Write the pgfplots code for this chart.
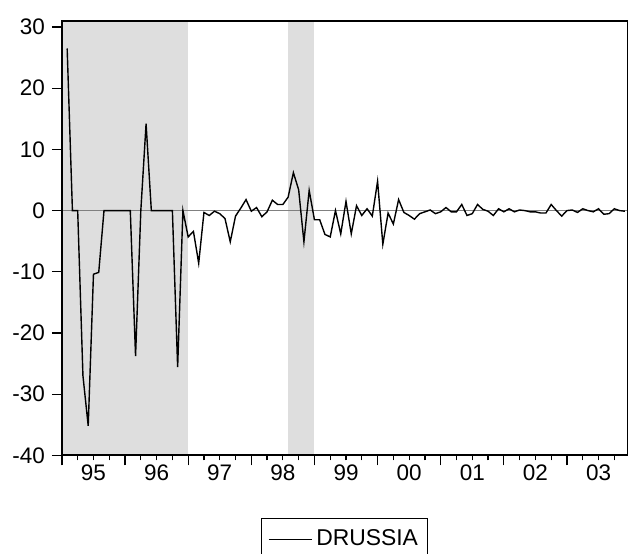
\documentclass[border=0pt]{standalone}
\usepackage{fontspec}
\setmainfont{Liberation Sans}
\usepackage{pgfplots}
\usepackage{pgfplotstable}
\pgfplotsset{compat=1.18}
\definecolor{shade}{HTML}{DEDEDE}
\definecolor{zeroline}{HTML}{808080}

% monthly change, m = months since 1995M01
\pgfplotstableread{
m v
1 26.5
2 0
3 0
4 -27.0
5 -35.2
6 -10.4
7 -10.1
8 0
9 0
10 0
11 0
12 0
13 0
14 -23.8
15 0
16 14.2
17 0
18 0
19 0
20 0
21 0
22 -25.6
23 0
24 -4.3
25 -3.4
26 -8.6
27 -0.3
28 -0.8
29 -0.1
30 -0.5
31 -1.3
32 -5.1
33 -0.9
34 0.4
35 1.8
36 -0.1
37 0.5
38 -1.0
39 -0.2
40 1.7
41 1.0
42 1.0
43 2.2
44 6.2
45 3.4
46 -5.1
47 3.3
48 -1.5
49 -1.5
50 -3.9
51 -4.3
52 0.0
53 -3.8
54 1.5
55 -3.8
56 0.8
57 -0.8
58 0.3
59 -0.9
60 4.8
61 -5.5
62 -0.4
63 -2.2
64 1.8
65 -0.3
66 -0.8
67 -1.4
68 -0.5
69 -0.2
70 0.1
71 -0.5
72 -0.2
73 0.5
74 -0.2
75 -0.2
76 1.0
77 -0.8
78 -0.5
79 1.0
80 0.2
81 -0.1
82 -0.8
83 0.3
84 -0.2
85 0.3
86 -0.2
87 0.1
88 0.0
89 -0.2
90 -0.2
91 -0.4
92 -0.4
93 1.0
94 0.0
95 -0.9
96 0.0
97 0.1
98 -0.3
99 0.3
100 0.0
101 -0.2
102 0.3
103 -0.6
104 -0.5
105 0.3
106 0.0
107 -0.1
}\drussia

\begin{document}
\begin{tikzpicture}
\path[use as bounding box] (-31bp,-49bp) rectangle (283.5bp,228bp);
\begin{axis}[
  at={(0,0)}, anchor=south west,
  scale only axis, width=283.5bp, height=217.5bp,
  xmin=0, xmax=107.6, ymin=-40, ymax=31,
  axis on top,
  axis line style={line width=1bp},
  tick align=outside, xtick pos=bottom, ytick pos=left,
  tick style={black, line width=0.6bp},
  major tick length=5bp, minor tick length=2.5bp,
  xtick={0,12,...,96}, xticklabels={},
  minor xtick={3,6,...,105},
  extra x ticks={6,18,30,42,54,66,78,90,102},
  extra x tick labels={95,96,97,98,99,00,01,02,03},
  extra x tick style={major tick length=0pt, grid=none,
    xticklabel style={yshift=-1.5bp}},
  ytick={-40,-30,...,30},
  yticklabels={-40,-30,-20,-10,0,10,20,30},
  ticklabel style={font=\fontsize{11.3}{13}\selectfont},
  legend style={at={(0.5,-0.145)}, anchor=north, draw=black,
    line width=0.5bp, font=\fontsize{11.5}{13}\selectfont,
    inner ysep=3.5bp, inner xsep=3bp},
  legend image code/.code={\draw[#1] (0bp,0bp) -- (21.5bp,0bp);},
]
\addplot[fill=shade, draw=none, forget plot] coordinates {(0,-40) (24,-40) (24,31) (0,31)} -- cycle;
\addplot[fill=shade, draw=none, forget plot] coordinates {(43,-40) (48,-40) (48,31) (43,31)} -- cycle;
\addplot[zeroline, line width=0.6bp, forget plot] coordinates {(0,0) (108,0)};
\addplot[black, line width=0.7bp] table[x=m, y=v] {\drussia};
\legend{DRUSSIA}
\end{axis}
\end{tikzpicture}
\end{document}
